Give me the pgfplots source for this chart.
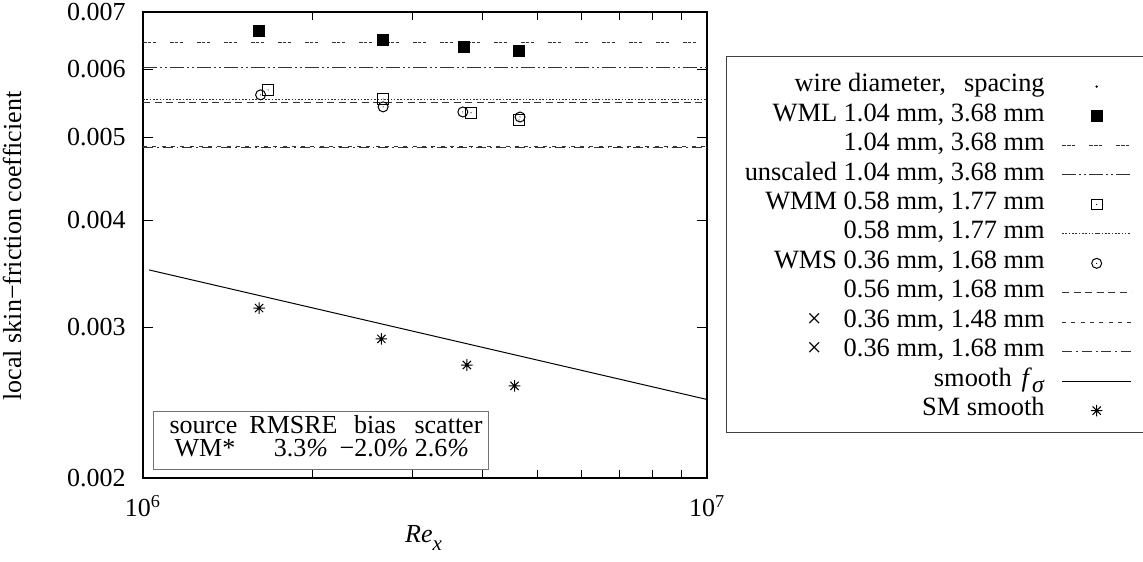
\documentclass[border=0pt]{standalone}
\usepackage{fontspec}
\setmainfont{Liberation Serif}
\usepackage{pgfplots}
\pgfplotsset{compat=1.18}

% open square with a centre dot
\pgfdeclareplotmark{sqdot}{%
  \pgfpathrectangle{\pgfpoint{-\pgfplotmarksize}{-\pgfplotmarksize}}%
    {\pgfpoint{2\pgfplotmarksize}{2\pgfplotmarksize}}%
  \pgfusepathqstroke
  \pgfpathcircle{\pgfpointorigin}{0.3pt}\pgfusepathqfill}
% open circle with a centre dot
\pgfdeclareplotmark{circdot}{%
  \pgfpathcircle{\pgfpointorigin}{\pgfplotmarksize}\pgfusepathqstroke
  \pgfpathcircle{\pgfpointorigin}{0.3pt}\pgfusepathqfill}
% eight-armed asterisk
\pgfdeclareplotmark{star8}{%
  \pgfpathmoveto{\pgfpoint{-\pgfplotmarksize}{0pt}}\pgfpathlineto{\pgfpoint{\pgfplotmarksize}{0pt}}%
  \pgfpathmoveto{\pgfpoint{0pt}{-\pgfplotmarksize}}\pgfpathlineto{\pgfpoint{0pt}{\pgfplotmarksize}}%
  \pgfpathmoveto{\pgfpoint{-0.7071\pgfplotmarksize}{-0.7071\pgfplotmarksize}}%
  \pgfpathlineto{\pgfpoint{0.7071\pgfplotmarksize}{0.7071\pgfplotmarksize}}%
  \pgfpathmoveto{\pgfpoint{-0.7071\pgfplotmarksize}{0.7071\pgfplotmarksize}}%
  \pgfpathlineto{\pgfpoint{0.7071\pgfplotmarksize}{-0.7071\pgfplotmarksize}}%
  \pgfusepathqstroke}

\newcommand\tickfont{\fontsize{13}{15}\selectfont}
\newcommand\legfont{\fontsize{13.2}{15}\selectfont}
\newcommand\labfont{\fontsize{13}{15}\selectfont}
\newcommand\tabfont{\fontsize{13}{15}\selectfont}

\colorlet{lncol}{black!80}
\tikzset{
  lnA/.style={lncol, line width=0.5pt, dash pattern=on 1.8pt off 0.6pt on 1.8pt off 0.6pt on 1.8pt off 6.9pt},
  lnB/.style={lncol, line width=0.5pt, dash pattern=on 7pt off 1.5pt on 1pt off 1.5pt on 1pt off 1.5pt},
  lnC/.style={lncol, line width=0.5pt, dash pattern=on 0.8pt off 0.85pt},
  lnD/.style={lncol, line width=0.5pt, dash pattern=on 3.5pt off 2.25pt},
  lnE/.style={lncol, line width=0.5pt, dash pattern=on 2pt off 2.65pt},
  lnF/.style={lncol, line width=0.5pt, dash pattern=on 5pt off 2pt on 0.8pt off 2pt},
}

\begin{document}
\begin{tikzpicture}
\useasboundingbox (0pt,0pt) rectangle (571.5pt,-280.5pt);
\begin{axis}[
  at={(71.5pt,-6pt)}, anchor=north west,
  scale only axis, width=282pt, height=233pt,
  xmode=log, ymode=log,
  xmin=1e6, xmax=1e7, ymin=0.002, ymax=0.007,
  xtick={1e6,1e7},
  xticklabels={10\textsuperscript{6},10\textsuperscript{7}},
  minor xtick={2e6,3e6,4e6,5e6,6e6,7e6,8e6,9e6},
  ytick={0.002,0.003,0.004,0.005,0.006,0.007},
  yticklabels={0.002,0.003,0.004,0.005,0.006,0.007},
  yminorticks=false,
  tick align=inside,
  major tick length=5pt, minor tick length=4pt,
  every tick/.style={black, line width=0.5pt},
  axis line style={black, line width=0.75pt},
  xticklabel style={font=\tickfont, anchor=base, inner sep=0pt, yshift=-19pt},
  yticklabel style={font=\tickfont, anchor=east, inner sep=0pt, xshift=-8.5pt},
  legend cell align=right,
  legend plot pos=right,
  legend image code/.code={%
    \path (0pt,0pt) (43pt,0pt);
    \draw[mark repeat=2,mark phase=2,#1] plot coordinates {(8.5pt,0pt) (25.75pt,0pt) (43pt,0pt)};},
  legend style={
    draw=none, fill=none, inner sep=0pt, font=\legfont,
    at={(axis description cs:1.75355,0.87253)}, anchor=north east,
    row sep=0pt,
    nodes={inner xsep=0pt, inner ysep=0pt, text height=9.9pt, text depth=4.83pt},
  },
]
\addlegendimage{only marks, mark=*, mark size=0.35pt}
\addlegendentry{wire diameter,\hspace{9pt}spacing}

\addplot[only marks, mark=square*, mark size=2.75pt, black] coordinates {
  (1.606e6,0.006652) (2.665e6,0.006493) (3.708e6,0.006370) (4.640e6,0.006302)};
\addlegendentry{WML 1.04 mm, 3.68 mm}

\addplot[lnA] coordinates {(1e6,0.006457) (1e7,0.006457)};
\addlegendentry{1.04 mm, 3.68 mm}

\addplot[lnB] coordinates {(1e6,0.006038) (1e7,0.006038)};
\addlegendentry{unscaled 1.04 mm, 3.68 mm}

\addplot[only marks, mark=sqdot, mark size=2.7pt, black, mark options={line width=0.5pt}] coordinates {
  (1.666e6,0.005677) (2.665e6,0.005540) (3.815e6,0.005338) (4.640e6,0.005236)};
\addlegendentry{WMM 0.58 mm, 1.77 mm}

\addplot[lnC] coordinates {(1e6,0.005536) (1e7,0.005536)};
\addlegendentry{0.58 mm, 1.77 mm}

\addplot[only marks, mark=circdot, mark size=2.5pt, black, mark options={line width=0.5pt}] coordinates {
  (1.616e6,0.005602) (2.665e6,0.005424) (3.690e6,0.005350) (4.660e6,0.005278)};
\addlegendentry{WMS 0.36 mm, 1.68 mm}

\addplot[lnD] coordinates {(1e6,0.005492) (1e7,0.005492)};
\addlegendentry{0.56 mm, 1.68 mm}

\addplot[lnE] coordinates {(1e6,0.004880) (1e7,0.004880)};
\addlegendentry{×\hspace{11pt}0.36 mm, 1.48 mm}

\addplot[lnF] coordinates {(1e6,0.004862) (1e7,0.004862)};
\addlegendentry{×\hspace{11pt}0.36 mm, 1.68 mm}

\addplot[black, line width=0.5pt] coordinates {(1.025e6,0.003499) (1e7,0.002470)};
\addlegendentry{smooth\hspace{5pt}\textit{f}\raisebox{-3pt}{\fontsize{12}{12}\selectfont\textit{σ}}}

\addplot[only marks, mark=star8, mark size=2.9pt, black, mark options={line width=0.5pt}] coordinates {
  (1.606e6,0.003158) (2.646e6,0.002907) (3.752e6,0.002710) (4.557e6,0.002562)};
\addlegendentry{SM smooth}
\end{axis}

% axis titles
\node[font=\labfont, anchor=base, inner sep=0pt] at (211.75pt,-271pt)
  {\textit{Re}\raisebox{-4pt}{\fontsize{10.5}{10.5}\selectfont\textit{x}}};
\node[font=\labfont, anchor=base, inner sep=0pt, rotate=90] at (10.5pt,-123pt)
  {local skin−friction coefficient};

% legend frame
\draw[black!75, line width=0.5pt] (363pt,-28.5pt) rectangle (575pt,-216pt);

% statistics box
\draw[black!55, line width=0.5pt] (76.5pt,-205.5pt) rectangle (244pt,-234.5pt);
\begin{scope}[every node/.style={font=\tabfont, anchor=base, inner sep=0pt, text height=8.5pt, text depth=0pt}]
  \node at (101.75pt,-216.8pt) {source};
  \node at (146.75pt,-216.8pt) {RMSRE};
  \node at (187.5pt,-216.8pt) {bias};
  \node at (224.25pt,-216.8pt) {scatter};
  \node at (102.5pt,-228.3pt) {WM*};
  \node at (150.5pt,-228.3pt) {3.3\textit{\%}};
  \node at (187pt,-228.3pt) {−2.0\textit{\%}};
  \node at (221pt,-228.3pt) {2.6\textit{\%}};
\end{scope}
\end{tikzpicture}
\end{document}
